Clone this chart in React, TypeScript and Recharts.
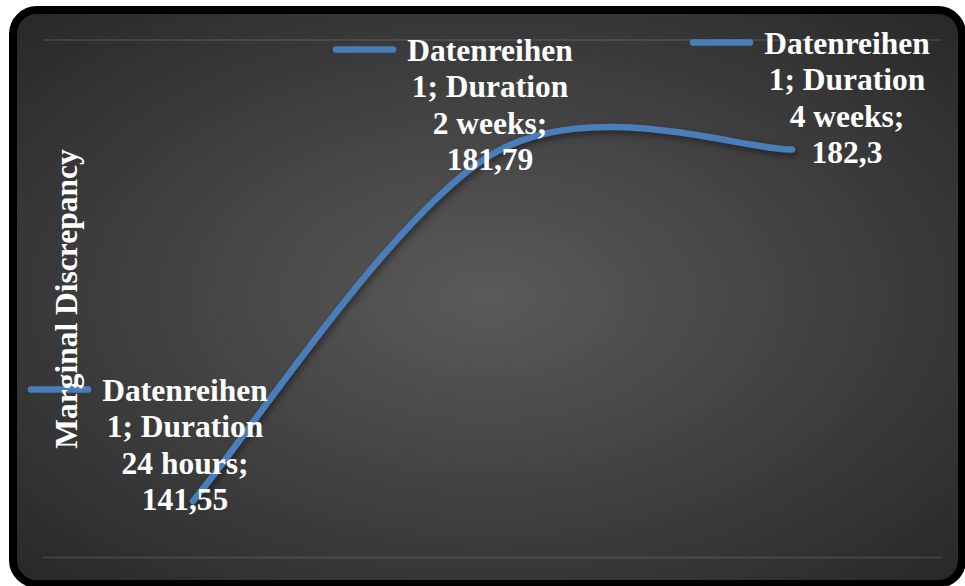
import React from 'react';
import { LineChart, Line, XAxis, YAxis, CartesianGrid, LabelList } from 'recharts';

// ---- data ----
const categories = ['24 hours', '2 weeks', '4 weeks'];
const values = [141.55, 181.79, 182.3];
const seriesName = 'Datenreihen 1';
const seriesField = 'Duration';
const yTicks = [135, 145, 155, 165, 175, 185, 195];
const yTitle = 'Marginal Discrepancy';

const data = categories.map((c, i) => ({ category: c, value: values[i] }));

// label placement (relative to each point): [dx of text centre, dy of first baseline]
const LABEL_OFFSETS: [number, number][] = [
  [-8, -100],
  [-2.5, -93],
  [55, -95.5],
];

const FONT = '"Liberation Serif", "Times New Roman", serif';
const LINE_COLOR = '#4a7ebb';
const FS = 31.5;
const LH = 36.4;

// Excel-like smoothing (Catmull-Rom with 1/6 tangents)
function excelSmooth(context: any) {
  let pts: number[][] = [];
  return {
    areaStart() {},
    areaEnd() {},
    lineStart() {
      pts = [];
    },
    lineEnd() {
      const n = pts.length;
      if (!n) return;
      context.moveTo(pts[0][0], pts[0][1]);
      for (let i = 0; i < n - 1; i++) {
        const p0 = pts[Math.max(0, i - 1)];
        const p1 = pts[i];
        const p2 = pts[i + 1];
        const p3 = pts[Math.min(n - 1, i + 2)];
        context.bezierCurveTo(
          p1[0] + (p2[0] - p0[0]) / 6,
          p1[1] + (p2[1] - p0[1]) / 6,
          p2[0] - (p3[0] - p1[0]) / 6,
          p2[1] - (p3[1] - p1[1]) / 6,
          p2[0],
          p2[1]
        );
      }
    },
    point(x: number, y: number) {
      pts.push([+x, +y]);
    },
  };
}

const fmt = (v: number) => String(v).replace('.', ',');

const DataLabel = (props: any) => {
  const { index } = props;
  const x = props.x ?? props.viewBox?.x;
  const y = props.y ?? props.viewBox?.y;
  if (x == null || y == null || index == null) return null;
  const [dx, dy] = LABEL_OFFSETS[index] || [0, -90];
  const cx = x + dx;
  const by = y + dy;
  const [nameWord, nameNum] = seriesName.split(' ');
  const lines = [nameWord, `${nameNum}; ${seriesField}`, `${categories[index]};`, fmt(values[index])];
  const textLeft = cx - 83;
  return (
    <g>
      <line
        x1={textLeft - 71}
        x2={textLeft - 14}
        y1={by - 11.5}
        y2={by - 11.5}
        stroke={LINE_COLOR}
        strokeWidth={6.5}
        strokeLinecap="round"
      />
      {lines.map((t, i) => (
        <text
          key={i}
          x={cx}
          y={by + i * LH}
          textAnchor="middle"
          fill="#ffffff"
          fontFamily={FONT}
          fontWeight="bold"
          fontSize={FS}
        >
          {t}
        </text>
      ))}
    </g>
  );
};

export default function App() {
  return (
    <div style={{ position: 'absolute', left: 0, top: 0, width: 965, height: 586, background: '#fff', overflow: 'hidden' }}>
      <div
        style={{
          position: 'absolute',
          left: 9,
          top: 6,
          width: 957,
          height: 582,
          boxSizing: 'border-box',
          border: '8px solid #000',
          borderRadius: 28,
          background: 'radial-gradient(ellipse farthest-corner at 50% 50%, #5a5a5a 0%, #282828 100%)',
        }}
      />
      <div style={{ position: 'absolute', left: 0, top: 0 }}>
        <LineChart width={965} height={586} data={data} margin={{ top: 40, right: 23, bottom: 28.5, left: 43 }}>
          <CartesianGrid vertical={false} stroke="#ffffff" strokeOpacity={0.13} strokeWidth={1.5} />
          <XAxis dataKey="category" hide padding={{ left: 150, right: 150 }} />
          <YAxis
            domain={[yTicks[0], yTicks[yTicks.length - 1]]}
            ticks={yTicks}
            tick={false}
            axisLine={false}
            tickLine={false}
            width={0}
          />
          <Line
            dataKey="value"
            name={seriesName}
            type={excelSmooth as any}
            stroke={LINE_COLOR}
            strokeWidth={6.5}
            strokeLinecap="round"
            dot={false}
            activeDot={false}
            isAnimationActive={false}
            style={{ filter: 'drop-shadow(2px 3px 3px rgba(0,0,0,0.45))' }}
          >
            <LabelList dataKey="value" content={<DataLabel />} />
          </Line>
        </LineChart>
      </div>
      <svg width={965} height={586} style={{ position: 'absolute', left: 0, top: 0, pointerEvents: 'none' }}>
        <text
          x={77}
          y={299}
          transform="rotate(-90, 77, 299)"
          textAnchor="middle"
          fill="#ffffff"
          fontFamily={FONT}
          fontWeight="bold"
          fontSize={FS}
        >
          {yTitle}
        </text>
      </svg>
    </div>
  );
}
